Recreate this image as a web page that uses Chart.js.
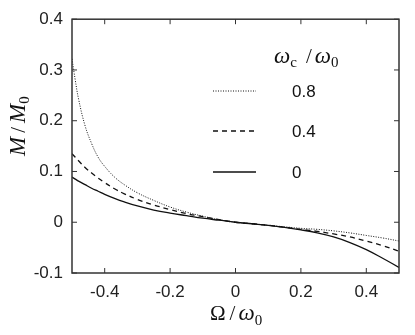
<!DOCTYPE html>
<html>
<head>
<meta charset="utf-8">
<script src="https://cdn.jsdelivr.net/npm/chart.js@4.4.0/dist/chart.umd.min.js"></script>
<style>
  html, body { margin: 0; padding: 0; background: #fff; }
  #wrap { width: 415px; height: 335px; }
</style>
</head>
<body>
<div id="wrap"><canvas id="chart-canvas" width="415" height="335"></canvas></div>
<script>
// Ω/ω0 sample points
const omega = [-0.5, -0.49, -0.48, -0.46, -0.44, -0.42, -0.4, -0.37, -0.34, -0.3, -0.25, -0.2, -0.15, -0.1, -0.05,
  0, 0.05, 0.1, 0.15, 0.2, 0.25, 0.3, 0.35, 0.4, 0.45, 0.5];

// M/M0 for ωc/ω0 = 0.8, 0.4, 0
const m08 = [0.322, 0.280, 0.243, 0.190, 0.155, 0.128, 0.110, 0.089, 0.074, 0.058, 0.043, 0.030, 0.020, 0.012, 0.005,
  0, -0.003, -0.006, -0.009, -0.012, -0.014, -0.017, -0.021, -0.026, -0.031, -0.037];
const m04 = [0.135, 0.128, 0.121, 0.108, 0.097, 0.087, 0.078, 0.066, 0.056, 0.045, 0.034, 0.025, 0.017, 0.011, 0.005,
  0, -0.003, -0.006, -0.010, -0.014, -0.018, -0.023, -0.029, -0.037, -0.046, -0.057];
const m00 = [0.089, 0.085, 0.081, 0.074, 0.067, 0.061, 0.055, 0.047, 0.040, 0.032, 0.024, 0.018, 0.013, 0.008, 0.004,
  0, -0.003, -0.006, -0.010, -0.015, -0.021, -0.029, -0.040, -0.054, -0.071, -0.089];

const seriesLabels = ['0.8', '0.4', '0'];
const xTicks = [-0.4, -0.2, 0, 0.2, 0.4];
const yTicks = [-0.1, 0, 0.1, 0.2, 0.3, 0.4];

const ink = '#222';
const serif = '"Liberation Serif", "DejaVu Serif", serif';
const sans = '"Liberation Sans", Arial, sans-serif';

// 画一串带上下标的文字
function drawRuns(ctx, x, y, runs) {
  runs.forEach(r => {
    ctx.font = r.font;
    ctx.fillText(r.text, x, y + (r.dy || 0));
    x += ctx.measureText(r.text).width + (r.gap || 0);
  });
}

const decorPlugin = {
  id: 'decor',
  afterDraw(chart) {
    const ctx = chart.ctx;
    const a = chart.chartArea;
    const xs = chart.scales.x, ys = chart.scales.y;
    ctx.save();
    ctx.strokeStyle = '#333';
    ctx.lineWidth = 1.5;
    ctx.setLineDash([]);
    ctx.strokeRect(a.left, a.top, a.right - a.left, a.bottom - a.top);
    // 内向刻度（四边）
    ctx.lineWidth = 1;
    ctx.beginPath();
    xTicks.forEach(v => {
      const px = xs.getPixelForValue(v);
      ctx.moveTo(px, a.bottom); ctx.lineTo(px, a.bottom - 5);
      ctx.moveTo(px, a.top); ctx.lineTo(px, a.top + 5);
    });
    yTicks.forEach(v => {
      const py = ys.getPixelForValue(v);
      ctx.moveTo(a.left, py); ctx.lineTo(a.left + 5, py);
      ctx.moveTo(a.right, py); ctx.lineTo(a.right - 5, py);
    });
    ctx.stroke();

    ctx.fillStyle = '#111';
    ctx.textBaseline = 'alphabetic';
    ctx.textAlign = 'left';

    // 图例标题 ωc / ω0
    drawRuns(ctx, 274, 63, [
      { text: 'ω', font: 'italic 23px ' + serif },
      { text: 'c', font: '15px ' + serif, dy: 4, gap: 9 },
      { text: '/', font: '21px ' + serif, gap: 3 },
      { text: 'ω', font: 'italic 23px ' + serif },
      { text: '0', font: '15px ' + serif, dy: 4 }
    ]);

    // 图例条目
    const rows = [91, 131, 172];
    chart.data.datasets.forEach((ds, i) => {
      ctx.strokeStyle = ds.borderColor;
      ctx.lineWidth = ds.borderWidth;
      ctx.setLineDash(ds.borderDash || []);
      ctx.beginPath();
      ctx.moveTo(213, rows[i]);
      ctx.lineTo(256, rows[i]);
      ctx.stroke();
      ctx.setLineDash([]);
      ctx.font = '17px ' + sans;
      ctx.textBaseline = 'middle';
      ctx.fillText(seriesLabels[i], 292, rows[i] + 1);
      ctx.textBaseline = 'alphabetic';
    });

    // x 轴标题 Ω / ω0
    drawRuns(ctx, 210, 320, [
      { text: 'Ω', font: '21px ' + serif, gap: 4 },
      { text: '/', font: '21px ' + serif, gap: 3 },
      { text: 'ω', font: 'italic 23px ' + serif },
      { text: '0', font: '15px ' + serif, dy: 5 }
    ]);

    // y 轴标题 M / M0
    ctx.translate(25, 156);
    ctx.rotate(-Math.PI / 2);
    drawRuns(ctx, 0, 0, [
      { text: 'M', font: 'italic 23px ' + serif, gap: 4 },
      { text: '/', font: '21px ' + serif, gap: 4 },
      { text: 'M', font: 'italic 23px ' + serif },
      { text: '0', font: '15px ' + serif, dy: 4 }
    ]);
    ctx.restore();
  }
};

function toPoints(ys) {
  return omega.map((x, i) => ({ x: x, y: ys[i] }));
}

const ctx = document.getElementById('chart-canvas').getContext('2d');
new Chart(ctx, {
  type: 'line',
  data: {
    datasets: [
      { label: seriesLabels[0], data: toPoints(m08), borderColor: '#111', borderWidth: 1, borderDash: [1, 1.5] },
      { label: seriesLabels[1], data: toPoints(m04), borderColor: '#111', borderWidth: 1.3, borderDash: [5, 4] },
      { label: seriesLabels[2], data: toPoints(m00), borderColor: '#111', borderWidth: 1.3 }
    ]
  },
  options: {
    responsive: false,
    animation: false,
    layout: { padding: { left: 0, top: 19, right: 16, bottom: 0 } },
    elements: {
      point: { radius: 0 },
      line: { tension: 0.4, fill: false }
    },
    plugins: {
      legend: { display: false },
      tooltip: { enabled: false }
    },
    scales: {
      x: {
        type: 'linear',
        min: -0.5,
        max: 0.5,
        afterBuildTicks: s => { s.ticks = xTicks.map(v => ({ value: v })); },
        afterFit: s => { s.height = 62; },
        grid: { display: false, drawTicks: false },
        border: { display: false },
        ticks: {
          padding: 9,
          color: ink,
          font: { family: sans, size: 17 },
          callback: v => String(v)
        }
      },
      y: {
        min: -0.1,
        max: 0.4,
        afterBuildTicks: s => { s.ticks = yTicks.map(v => ({ value: v })); },
        afterFit: s => { s.width = 72; },
        grid: { display: false, drawTicks: false },
        border: { display: false },
        ticks: {
          padding: 9,
          color: ink,
          font: { family: sans, size: 17 },
          callback: v => String(v)
        }
      }
    }
  },
  plugins: [decorPlugin]
});
</script>
</body>
</html>
